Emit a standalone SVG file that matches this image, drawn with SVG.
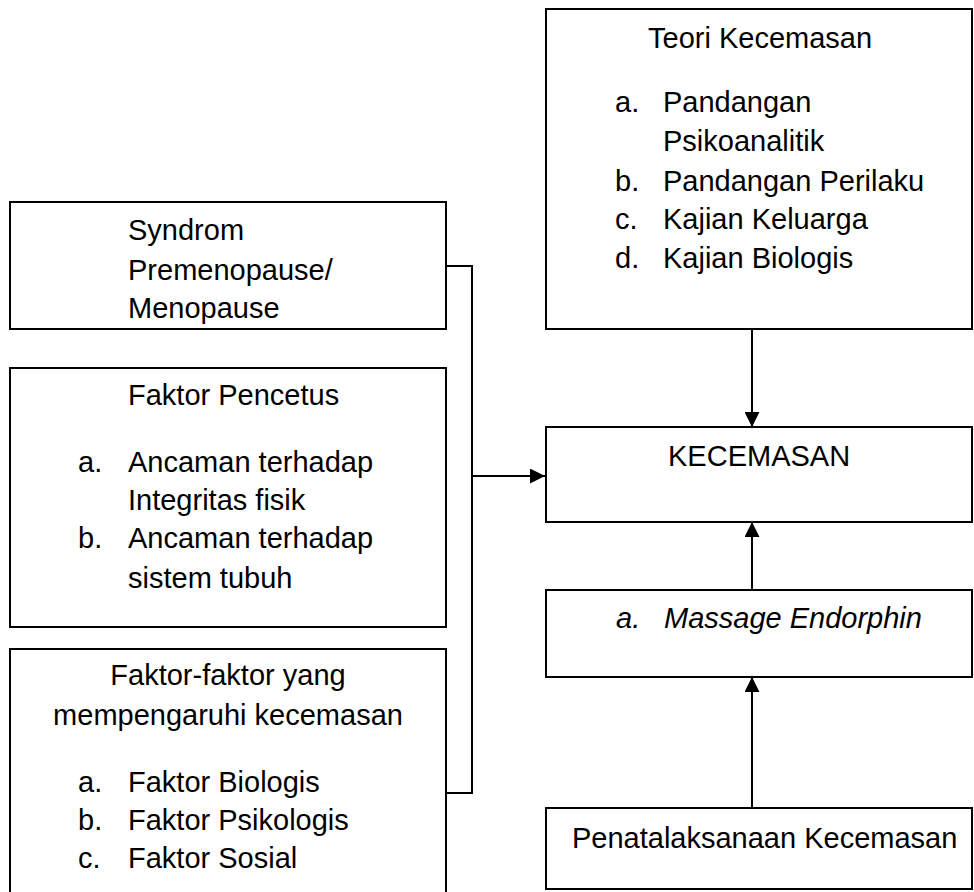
<svg xmlns="http://www.w3.org/2000/svg" width="974" height="892" viewBox="0 0 974 892">
<style>
.box{fill:#fff;stroke:#000;stroke-width:2}
text{font-family:"Liberation Sans",Arial,sans-serif;font-size:29px;fill:#000}
.it{font-style:italic}
.c{text-anchor:middle}
.conn{fill:none;stroke:#000;stroke-width:2}
</style>
<defs>
<marker id="ah" viewBox="0 0 10 10" refX="10" refY="5" markerWidth="15" markerHeight="15" markerUnits="userSpaceOnUse" orient="auto">
<path d="M0,0 L10,5 L0,10 Z" fill="#000"/>
</marker>
</defs>
<g id="connectors">
<path class="conn" d="M446,266 H472 V793 H446"/>
<path class="conn" d="M472,476 H545" marker-end="url(#ah)"/>
<path class="conn" d="M752,329 V427" marker-end="url(#ah)"/>
<path class="conn" d="M752,590 V522" marker-end="url(#ah)"/>
<path class="conn" d="M752,808 V677" marker-end="url(#ah)"/>
</g>
<g id="syndrom">
<rect class="box" x="10" y="202" width="436" height="127"/>
<text x="128" y="240">Syndrom</text>
<text x="128" y="280">Premenopause/</text>
<text x="128" y="318">Menopause</text>
</g>
<g id="faktor-pencetus">
<rect class="box" x="10" y="368" width="436" height="259"/>
<text x="128" y="405">Faktor Pencetus</text>
<text x="78" y="472">a.</text><text x="128" y="472">Ancaman terhadap</text>
<text x="128" y="510">Integritas fisik</text>
<text x="78" y="548">b.</text><text x="128" y="548">Ancaman terhadap</text>
<text x="128" y="588">sistem tubuh</text>
</g>
<g id="faktor-faktor">
<path class="box" d="M10,900 V649 H446 V900"/>
<text class="c" x="228" y="685">Faktor-faktor yang</text>
<text class="c" x="228" y="725">mempengaruhi kecemasan</text>
<text x="78" y="792">a.</text><text x="128" y="792">Faktor Biologis</text>
<text x="78" y="830">b.</text><text x="128" y="830">Faktor Psikologis</text>
<text x="78" y="868">c.</text><text x="128" y="868">Faktor Sosial</text>
</g>
<g id="teori">
<rect class="box" x="546" y="9" width="426" height="320"/>
<text x="648" y="48">Teori Kecemasan</text>
<text x="615" y="112">a.</text><text x="663" y="112">Pandangan</text>
<text x="663" y="151">Psikoanalitik</text>
<text x="615" y="191">b.</text><text x="663" y="191">Pandangan Perilaku</text>
<text x="615" y="229">c.</text><text x="663" y="229">Kajian Keluarga</text>
<text x="615" y="268">d.</text><text x="663" y="268">Kajian Biologis</text>
</g>
<g id="kecemasan">
<rect class="box" x="546" y="427" width="426" height="95"/>
<text x="668" y="466">KECEMASAN</text>
</g>
<g id="massage">
<rect class="box" x="546" y="590" width="426" height="87"/>
<text class="it" x="616" y="628">a.</text><text class="it" x="664" y="628">Massage Endorphin</text>
</g>
<g id="penatalaksanaan">
<rect class="box" x="546" y="808" width="426" height="81"/>
<text x="572" y="848">Penatalaksanaan Kecemasan</text>
</g>
</svg>
